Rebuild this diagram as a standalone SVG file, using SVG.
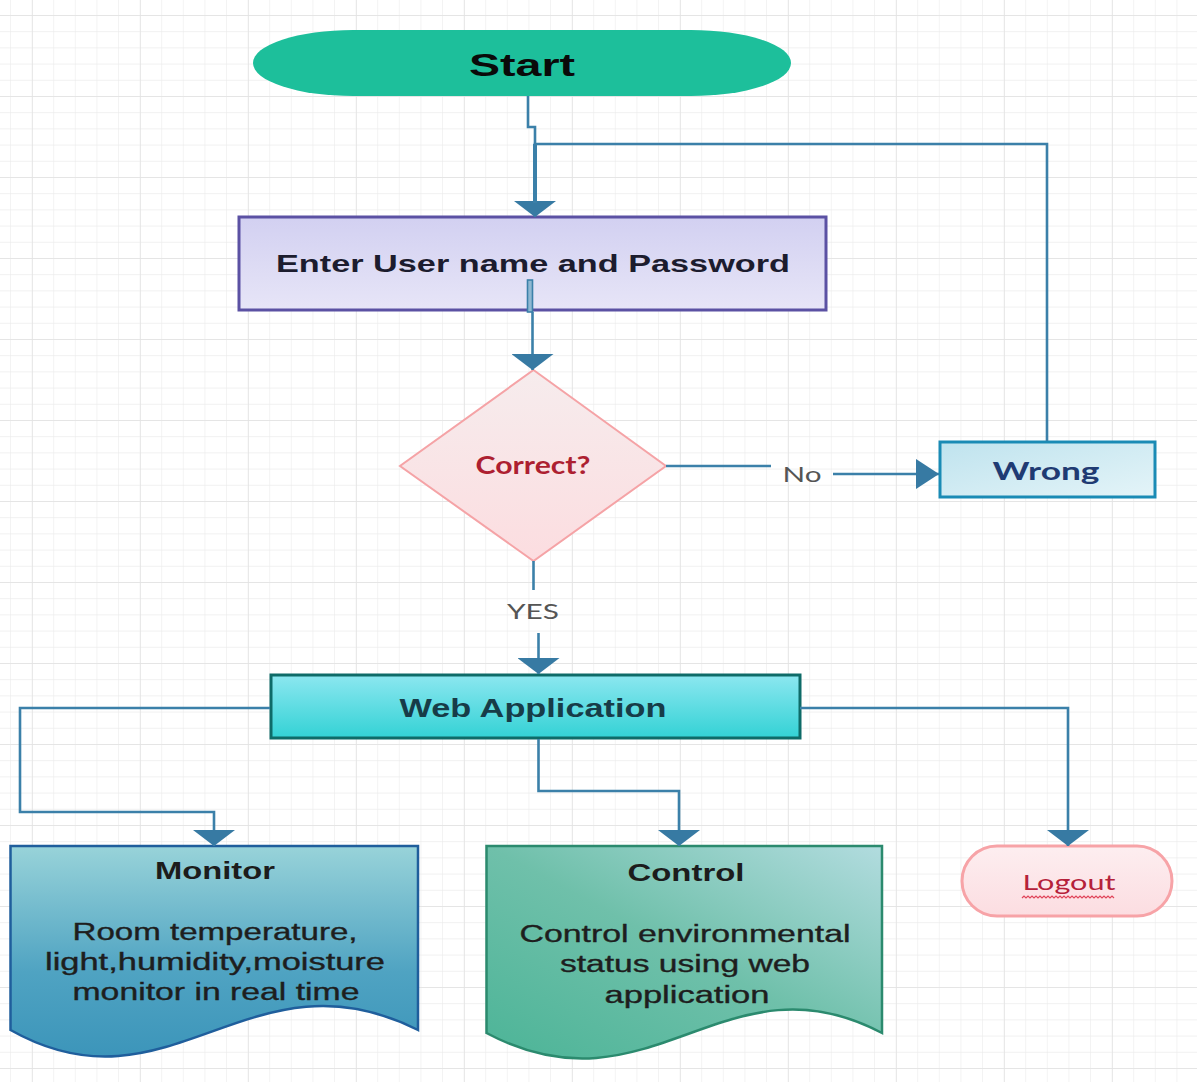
<svg xmlns="http://www.w3.org/2000/svg" width="1197" height="1082" viewBox="0 0 1197 1082">
<defs>
<pattern id="grid" x="10" y="15" width="21.6" height="16.2" patternUnits="userSpaceOnUse">
<path d="M0,0 H21.6 M0,0 V16.2" fill="none" stroke="#ececec" stroke-width="1.2"/>
</pattern>
<pattern id="gridMajor" x="32" y="15" width="108" height="81" patternUnits="userSpaceOnUse">
<path d="M0,0 H108 M0,0 V81" fill="none" stroke="#e2e2e2" stroke-width="1.4"/>
</pattern>
<linearGradient id="gEnter" x1="0" y1="0" x2="0" y2="1"><stop offset="0" stop-color="#d2d0f1"/><stop offset="1" stop-color="#e7e5f7"/></linearGradient>
<linearGradient id="gDiamond" x1="0" y1="0" x2="0" y2="1"><stop offset="0" stop-color="#f6eced"/><stop offset="1" stop-color="#fcdde0"/></linearGradient>
<linearGradient id="gWrong" x1="0" y1="0" x2="1" y2="1"><stop offset="0" stop-color="#bfe3ee"/><stop offset="1" stop-color="#e4f4f8"/></linearGradient>
<linearGradient id="gWeb" x1="0" y1="0" x2="0" y2="1"><stop offset="0" stop-color="#8ce7f0"/><stop offset="1" stop-color="#33d2d5"/></linearGradient>
<linearGradient id="gMonitor" x1="0" y1="0" x2="0" y2="1"><stop offset="0" stop-color="#98d3d9"/><stop offset="0.6" stop-color="#4fa3c2"/><stop offset="1" stop-color="#3c95ba"/></linearGradient>
<linearGradient id="gControl" x1="0" y1="1" x2="1" y2="0"><stop offset="0" stop-color="#4cb497"/><stop offset="0.5" stop-color="#6fc0aa"/><stop offset="1" stop-color="#b2dcdf"/></linearGradient>
<linearGradient id="gLogout" x1="0" y1="0" x2="0" y2="1"><stop offset="0" stop-color="#fdeef0"/><stop offset="1" stop-color="#fcdde1"/></linearGradient>
<marker id="arr" markerUnits="userSpaceOnUse" markerWidth="16" markerHeight="42" viewBox="0 0 16 42" refX="16" refY="21" orient="auto">
<path d="M0,0 L16,21 L0,42 Z" fill="#377aa3"/>
</marker>
<marker id="arrSide" markerUnits="userSpaceOnUse" markerWidth="23" markerHeight="30" viewBox="0 0 23 30" refX="23" refY="15" orient="auto">
<path d="M0,0 L23,15 L0,30 Z" fill="#377aa3"/>
</marker>
<style>
.conn{fill:none;stroke:#3b80a9;stroke-width:2.6}
.b{font-family:"Liberation Sans",Arial,sans-serif;font-weight:bold;text-anchor:middle}
.r{font-family:"Liberation Sans",Arial,sans-serif;text-anchor:middle;fill:#1e1e1e;stroke:#1e1e1e;stroke-width:0.35}
.l{font-family:Lato,"Open Sans",sans-serif;text-anchor:middle}
.lbl{font-family:Lato,"Open Sans",sans-serif;text-anchor:middle;fill:#555;font-size:22px}
</style>
</defs>
<rect width="1197" height="1082" fill="#ffffff"/>
<rect width="1197" height="1082" fill="url(#grid)"/>
<rect width="1197" height="1082" fill="url(#gridMajor)"/>

<g id="start">
<rect x="253" y="30" width="538" height="66" rx="100" ry="33" fill="#1dbf9b"/>
<text class="b" x="522" y="76" font-size="32" fill="#0a0a0a" textLength="106" lengthAdjust="spacingAndGlyphs">Start</text>
</g>

<g id="enter">
<rect x="239" y="217" width="587" height="93" fill="url(#gEnter)" stroke="#5b51a3" stroke-width="3"/>
<text class="b" x="533" y="272" font-size="24" fill="#1c1c2e" textLength="514" lengthAdjust="spacingAndGlyphs">Enter User name and Password</text>
</g>

<g id="correct">
<polygon points="533.5,370 666,466 533.5,561 400,466" fill="url(#gDiamond)" stroke="#f5a3a6" stroke-width="2"/>
<text class="l" x="533" y="474" font-size="24" font-weight="bold" fill="#ad1f31" textLength="115" lengthAdjust="spacingAndGlyphs">Correct?</text>
</g>

<g id="wrong">
<rect x="940" y="442" width="215" height="55" fill="url(#gWrong)" stroke="#1a8bb5" stroke-width="3"/>
<text class="l" x="1046" y="480" font-size="25" font-weight="bold" fill="#1f3b73" textLength="107" lengthAdjust="spacingAndGlyphs">Wrong</text>
</g>

<g id="webapp">
<rect x="271" y="675" width="529" height="63" fill="url(#gWeb)" stroke="#0e6b68" stroke-width="3"/>
<text class="b" x="533" y="717" font-size="25" fill="#173c48" textLength="267" lengthAdjust="spacingAndGlyphs">Web Application</text>
</g>

<g id="monitor">
<path d="M10.5,846 H418 V1030 C250,945 170,1120 10.5,1030 Z" fill="url(#gMonitor)" stroke="#1f5e9c" stroke-width="2.5"/>
<text class="b" x="215" y="879" font-size="23" fill="#1c1c1c" textLength="120" lengthAdjust="spacingAndGlyphs">Monitor</text>
<text class="r" x="215" y="940" font-size="23" textLength="285" lengthAdjust="spacingAndGlyphs">Room temperature,</text>
<text class="r" x="215" y="970" font-size="23" textLength="340" lengthAdjust="spacingAndGlyphs">light,humidity,moisture</text>
<text class="r" x="216" y="1000" font-size="23" textLength="287" lengthAdjust="spacingAndGlyphs">monitor in real time</text>
</g>

<g id="control">
<path d="M486.5,846 H882 V1033 C725,950 650,1120 486.5,1033 Z" fill="url(#gControl)" stroke="#2b8a6e" stroke-width="2.5"/>
<text class="b" x="686" y="881" font-size="23" fill="#1c1c1c" textLength="117" lengthAdjust="spacingAndGlyphs">Control</text>
<text class="r" x="685" y="942" font-size="23" textLength="331" lengthAdjust="spacingAndGlyphs">Control environmental</text>
<text class="r" x="685" y="972" font-size="23" textLength="250" lengthAdjust="spacingAndGlyphs">status using web</text>
<text class="r" x="687" y="1003" font-size="23" textLength="165" lengthAdjust="spacingAndGlyphs">application</text>
</g>

<g id="logout">
<rect x="962" y="846" width="210" height="70" rx="35" ry="35" fill="url(#gLogout)" stroke="#f7a3a7" stroke-width="3"/>
<text class="l" x="1069" y="890" font-size="22" fill="#b5213a" textLength="93" lengthAdjust="spacingAndGlyphs">Logout</text>
<path d="M1022,898 l2,-2 l2,2 l2,-2 l2,2 l2,-2 l2,2 l2,-2 l2,2 l2,-2 l2,2 l2,-2 l2,2 l2,-2 l2,2 l2,-2 l2,2 l2,-2 l2,2 l2,-2 l2,2 l2,-2 l2,2 l2,-2 l2,2 l2,-2 l2,2 l2,-2 l2,2 l2,-2 l2,2 l2,-2 l2,2 l2,-2 l2,2 l2,-2 l2,2 l2,-2 l2,2 l2,-2 l2,2 l2,-2 l2,2 l2,-2 l2,2 l2,-2 l2,2" fill="none" stroke="#e0455a" stroke-width="1.2"/>
</g>

<g id="connectors">
<path class="conn" d="M528,96 V127 H535 V217" marker-end="url(#arr)"/>
<path class="conn" d="M1047,441 V144 H535 V200"/>
<path d="M535,144 V203" fill="none" stroke="#3b80a9" stroke-width="4"/>
<rect x="527.5" y="280" width="5" height="32" fill="#8fb8d2" stroke="#3b80a9" stroke-width="1.6"/>
<path class="conn" d="M532.5,312 V370" marker-end="url(#arr)"/>
<path class="conn" d="M666,466 H771"/>
<path class="conn" d="M833,474 H939" marker-end="url(#arrSide)"/>
<text class="lbl" x="802" y="482" textLength="39" lengthAdjust="spacingAndGlyphs">No</text>
<path class="conn" d="M533.5,561 V590"/>
<text class="lbl" x="533" y="619" font-size="21" textLength="52" lengthAdjust="spacingAndGlyphs">YES</text>
<path class="conn" d="M538.5,633 V674" marker-end="url(#arr)"/>
<path class="conn" d="M270,708 H20 V812 H214 V846" marker-end="url(#arr)"/>
<path class="conn" d="M538.5,739 V791 H679 V846" marker-end="url(#arr)"/>
<path class="conn" d="M800,708 H1068 V846" marker-end="url(#arr)"/>
</g>
</svg>
